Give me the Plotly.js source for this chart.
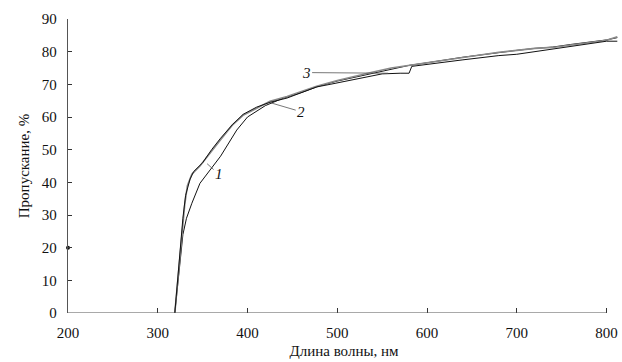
<!DOCTYPE html>
<html><head><meta charset="utf-8">
<script src="https://cdn.plot.ly/plotly-3.0.1.min.js"></script>
<style>body{margin:0;background:#fff}#chart{width:622px;height:362px}</style>
</head><body><div id="chart"></div>
<script>
// Curve 1
var wl1 = [319,322,325,328,332,338,347,358,370,388,400,420,440,460,480,500,520,540,560,580,600,620,640,660,680,700,720,740,760,780,800,812];
var tr1 = [0,8,17,24,29,33.6,39.7,43.8,48,56,60,63.5,65.8,67.5,69.5,71,72.2,73.5,74.8,75.8,76.6,77.5,78.3,79,79.8,80.4,81,81.4,82.2,82.8,83.6,84.3];
// Curve 2
var wl2 = [319,322,325,328,330,333,338,347,358,370,383,395,407,425,444,460,477,500,520,540,560,580,600,620,640,660,680,700,720,740,760,780,800,812];
var tr2 = [0,9,19,28,33,39,42.5,45,49,53,57.5,60.5,62.2,64.8,66.3,67.8,69.4,71.2,72.6,73.8,75,75.8,76.6,77.5,78.2,79,79.8,80.4,81,81.3,82,82.7,83.5,84.6];
// Curve 3
var wl3 = [319,322,325,328,331,336,340,350,360,370,383,395,410,425,444,460,477,492,510,530,550,570,580,583,600,620,640,660,680,700,720,740,760,780,800,812];
var tr3 = [0,10,20,29,36,41,43.3,46,50,53.5,57.6,60.8,63,64.5,65.8,67.5,69.2,70,71,72.2,73.2,73.4,73.4,75.5,76.2,76.8,77.5,78.2,78.8,79.2,80,80.8,81.8,82.6,83.2,83.2];
var strayX = [200], strayY = [20];
var xTicks = [200,300,400,500,600,700,800];
var yTicks = [0,10,20,30,40,50,60,70,80,90];
var curveLabels = ['1','2','3'];

var F = 'Liberation Serif';
var traces = [
  {x: wl1, y: tr1, mode: 'lines', line: {color: '#111', width: 1}},
  {x: wl2, y: tr2, mode: 'lines', line: {color: '#8a8a8a', width: 1.6}},
  {x: wl3, y: tr3, mode: 'lines', line: {color: '#111', width: 1}},
  {x: strayX, y: strayY, mode: 'markers', marker: {color: '#111', size: 4}, cliponaxis: false}
];
var ann = function(t, x, y, ax, ay){
  return {text: t, x: x, y: y, ax: ax, ay: ay, axref: 'x', ayref: 'y', xref: 'x', yref: 'y',
    showarrow: true, arrowhead: 0, arrowwidth: 0.8, arrowcolor: '#555',
    font: {family: F, size: 15, color: '#111'}, textangle: 0};
};
var layout = {
  width: 622, height: 362,
  margin: {l: 68, r: 2, t: 19, b: 49},
  paper_bgcolor: '#fff', plot_bgcolor: '#fff',
  showlegend: false,
  font: {family: F, size: 15, color: '#111'},
  xaxis: {range: [200, 815], tickvals: xTicks, ticktext: xTicks.map(String),
    ticks: 'inside', ticklen: 5, tickcolor: '#333', showline: false, showgrid: false, zeroline: false,
    ticklabelstandoff: 9, tickfont: {family: F, size: 15},
    title: {text: 'Длина волны, нм', font: {family: F, size: 15}, standoff: 5}},
  yaxis: {range: [0, 90], tickvals: yTicks, ticktext: yTicks.map(String),
    ticks: 'inside', ticklen: 4, tickcolor: '#333', showline: true, linecolor: '#555', linewidth: 1.2,
    showgrid: false, zeroline: false, ticklabelstandoff: 7, tickfont: {family: F, size: 15},
    title: {text: 'Пропускание, %', font: {family: F, size: 15}, standoff: 8}},
  shapes: [{type: 'line', xref: 'x', yref: 'y', x0: 200, x1: 800, y0: 0, y1: 0, line: {color: '#555', width: 1.2}}],
  annotations: [
    ann('<i>' + curveLabels[0] + '</i>', 355, 45.7, 368.3, 42.4),
    ann('<i>' + curveLabels[1] + '</i>', 425.2, 64.4, 459.8, 61.6),
    ann('<i>' + curveLabels[2] + '</i>', 556.7, 73.4, 465.3, 73.6)
  ]
};
Plotly.newPlot('chart', traces, layout, {displayModeBar: false, staticPlot: true});
</script></body></html>
